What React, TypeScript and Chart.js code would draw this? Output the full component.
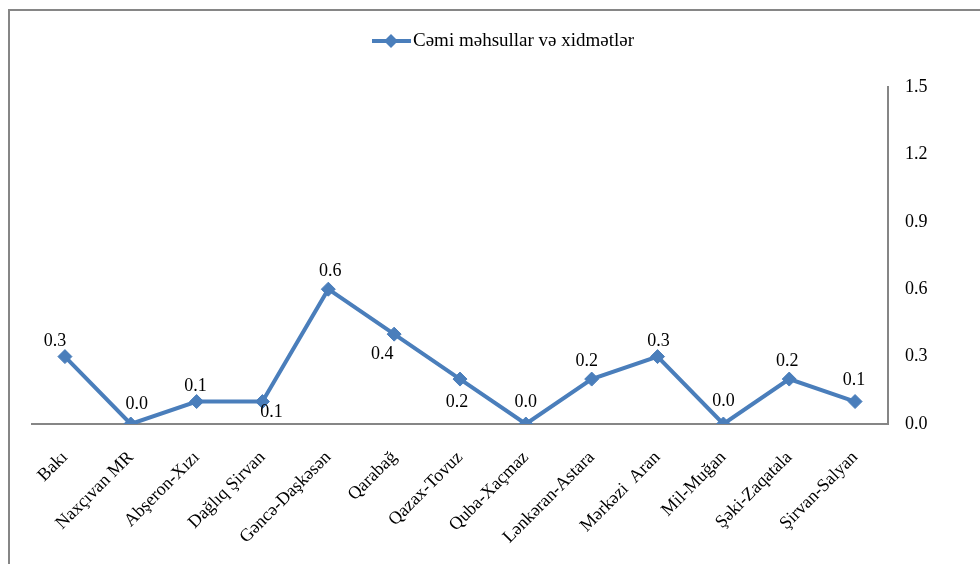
import React, { useEffect, useRef } from "react";
import { Chart, registerables } from "chart.js";

Chart.register(...registerables);

const CATEGORIES = [
  "Bakı",
  "Naxçıvan MR",
  "Abşeron-Xızı",
  "Dağlıq Şirvan",
  "Gəncə-Daşkəsən",
  "Qarabağ",
  "Qazax-Tovuz",
  "Quba-Xaçmaz",
  "Lənkəran-Astara",
  "Mərkəzi  Aran",
  "Mil-Muğan",
  "Şəki-Zaqatala",
  "Şirvan-Salyan",
];
const VALUES = [0.3, 0.0, 0.1, 0.1, 0.6, 0.4, 0.2, 0.0, 0.2, 0.3, 0.0, 0.2, 0.1];
const SERIES_NAME = "Cəmi məhsullar və xidmətlər";
const Y_MIN = 0;
const Y_MAX = 1.5;
const Y_STEP = 0.3;

// label placement (style): [dx, dy] from each marker
const LABEL_OFFSETS = [
  [-10, -15], [6, -20], [-1, -15], [9, 11], [2, -18], [-12, 20], [-3, 23],
  [0, -22], [-5, -18], [1, -15], [0, -23], [-2, -18], [-1, -21],
];

const BLUE = "#4a7ebb";
const GREY = "#868686";
const FONT = "'Liberation Serif', 'Times New Roman', serif";

const framePlugin = {
  id: "frame",
  beforeDraw(chart: any) {
    const ctx = chart.ctx;
    ctx.save();
    ctx.fillStyle = "#ffffff";
    ctx.fillRect(0, 0, chart.width, chart.height);
    ctx.strokeStyle = GREY;
    ctx.lineWidth = 2;
    ctx.beginPath();
    ctx.moveTo(9, chart.height);
    ctx.lineTo(9, 10);
    ctx.lineTo(chart.width, 10);
    ctx.stroke();
    ctx.restore();
  },
};

const legendPlugin = {
  id: "customLegend",
  afterDraw(chart: any) {
    const ctx = chart.ctx;
    ctx.save();
    const y = 41;
    ctx.strokeStyle = BLUE;
    ctx.lineWidth = 4;
    ctx.beginPath();
    ctx.moveTo(372, y);
    ctx.lineTo(411, y);
    ctx.stroke();
    ctx.fillStyle = BLUE;
    ctx.beginPath();
    ctx.moveTo(391, y - 7);
    ctx.lineTo(398, y);
    ctx.lineTo(391, y + 7);
    ctx.lineTo(384, y);
    ctx.closePath();
    ctx.fill();
    ctx.fillStyle = "#000000";
    ctx.font = `19px ${FONT}`;
    ctx.textAlign = "left";
    ctx.textBaseline = "middle";
    ctx.fillText(SERIES_NAME, 413, y);
    ctx.restore();
  },
};

const dataLabelPlugin = {
  id: "dataLabels",
  afterDatasetsDraw(chart: any) {
    const ctx = chart.ctx;
    const meta = chart.getDatasetMeta(0);
    ctx.save();
    ctx.fillStyle = "#000000";
    ctx.font = `18px ${FONT}`;
    ctx.textAlign = "center";
    ctx.textBaseline = "middle";
    meta.data.forEach((pt: any, i: number) => {
      const off = LABEL_OFFSETS[i] || [0, -18];
      const v = chart.data.datasets[0].data[i] as number;
      ctx.fillText(v.toFixed(1), pt.x + off[0], pt.y + off[1]);
    });
    ctx.restore();
  },
};

export default function App() {
  const canvasRef = useRef<HTMLCanvasElement | null>(null);

  useEffect(() => {
    document.body.style.margin = "0";
    const canvas = canvasRef.current;
    if (!canvas) return;
    const chart = new Chart(canvas, {
      type: "line",
      data: {
        labels: CATEGORIES,
        datasets: [
          {
            label: SERIES_NAME,
            data: VALUES,
            borderColor: BLUE,
            backgroundColor: BLUE,
            borderWidth: 4,
            pointStyle: "rectRot",
            pointRadius: 7,
            pointHoverRadius: 7,
            pointBackgroundColor: BLUE,
            pointBorderColor: BLUE,
            pointBorderWidth: 1,
            tension: 0,
            fill: false,
          },
        ],
      },
      options: {
        responsive: false,
        maintainAspectRatio: false,
        animation: false,
        devicePixelRatio: 1,
        layout: { padding: { left: 32, right: 0, top: 87, bottom: 0 } },
        plugins: {
          legend: { display: false },
          tooltip: { enabled: false },
          title: { display: false },
        },
        scales: {
          x: {
            type: "category",
            offset: true,
            grid: { display: false, drawTicks: false },
            border: { display: true, color: GREY, width: 2 },
            ticks: {
              color: "#000000",
              font: { family: FONT, size: 18 },
              maxRotation: 45,
              minRotation: 45,
              autoSkip: false,
              padding: 23,
            },
            afterFit(scale: any) {
              scale.height = 140;
            },
          },
          y: {
            position: "right",
            min: Y_MIN,
            max: Y_MAX,
            grid: { display: false, drawTicks: false },
            border: { display: true, color: GREY, width: 2 },
            ticks: {
              stepSize: Y_STEP,
              color: "#000000",
              font: { family: FONT, size: 18 },
              padding: 17,
              callback: (v: any) => Number(v).toFixed(1),
            },
            afterFit(scale: any) {
              scale.width = 92;
            },
          },
        },
      },
      plugins: [framePlugin, legendPlugin, dataLabelPlugin],
    });
    return () => chart.destroy();
  }, []);

  return (
    <div style={{ width: 980, height: 564, position: "relative" }}>
      <canvas ref={canvasRef} width={980} height={564} style={{ display: "block" }} />
    </div>
  );
}
